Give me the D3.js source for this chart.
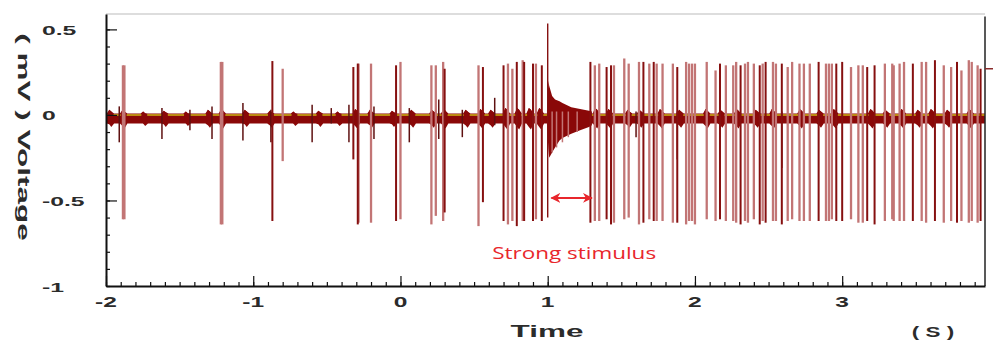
<!DOCTYPE html>
<html>
<head>
<meta charset="utf-8">
<script src="https://cdn.jsdelivr.net/npm/d3@7"></script>
<style>
  html, body { margin: 0; padding: 0; background: #fff; }
  svg { display: block; }
  .lbl { font-family: "Liberation Sans", Arial, sans-serif; font-weight: bold; fill: #2b2b2b; }
</style>
</head>
<body>
<svg id="chart" width="993" height="343"></svg>
<script>
// ---- data ----

// big action potentials: time (s), top (mV), bottom (mV), shade (1 = dark trace, 0 = pale trace)
var spikeTimes = [
  -1.885, -1.875, -1.22, -1.21, -0.87, -0.80, -0.32, -0.29, -0.285, -0.20,
  -0.03, 0.00, 0.21, 0.24, 0.29, 0.30, 0.53, 0.56, 0.70, 0.73,
  0.76, 0.79, 0.83, 0.84, 0.90, 0.92, 0.96, 1.00, 1.29, 1.32,
  1.35, 1.40, 1.43, 1.45, 1.52, 1.55, 1.62, 1.65, 1.69, 1.72,
  1.74, 1.78, 1.85, 1.88, 1.94, 1.96, 1.98, 2.00, 2.08, 2.14,
  2.17, 2.21, 2.26, 2.28, 2.31, 2.34, 2.36, 2.40, 2.44, 2.46,
  2.48, 2.53, 2.55, 2.59, 2.63, 2.66, 2.71, 2.74, 2.78, 2.84,
  2.89, 2.91, 2.93, 2.96, 3.00, 3.06, 3.11, 3.14, 3.17, 3.22,
  3.29, 3.34, 3.35, 3.39, 3.42, 3.48, 3.54, 3.57, 3.63, 3.69,
  3.74, 3.78, 3.81, 3.86, 3.88, 3.92, 3.94
];
var spikeTops = [
  0.29, 0.29, 0.31, 0.31, 0.315, 0.27, 0.28, 0.30, 0.30, 0.30,
  0.29, 0.31, 0.29, 0.29, 0.31, 0.27, 0.29, 0.28, 0.29, 0.30,
  0.27, 0.31, 0.32, 0.31, 0.30, 0.30, 0.29, 0.535, 0.31, 0.29,
  0.30, 0.28, 0.29, 0.29, 0.33, 0.30, 0.31, 0.31, 0.30, 0.31,
  0.30, 0.30, 0.30, 0.28, 0.31, 0.30, 0.30, 0.30, 0.31, 0.26,
  0.30, 0.29, 0.29, 0.31, 0.29, 0.30, 0.31, 0.30, 0.29, 0.30,
  0.31, 0.31, 0.30, 0.30, 0.28, 0.31, 0.30, 0.30, 0.30, 0.31,
  0.30, 0.30, 0.30, 0.30, 0.31, 0.28, 0.29, 0.29, 0.28, 0.29,
  0.30, 0.30, 0.29, 0.30, 0.31, 0.30, 0.31, 0.31, 0.32, 0.29,
  0.28, 0.31, 0.26, 0.32, 0.31, 0.29, 0.27
];
var spikeBottoms = [
  -0.61, -0.61, -0.64, -0.64, -0.62, -0.27, -0.26, -0.64, -0.63, -0.63,
  -0.62, -0.61, -0.64, -0.59, -0.62, -0.57, -0.65, -0.51, -0.62, -0.64,
  -0.62, -0.65, -0.62, -0.62, -0.62, -0.61, -0.62, -0.60, -0.63, -0.62,
  -0.62, -0.61, -0.64, -0.63, -0.61, -0.60, -0.64, -0.63, -0.61, -0.62,
  -0.62, -0.62, -0.63, -0.63, -0.64, -0.62, -0.62, -0.64, -0.61, -0.62,
  -0.61, -0.62, -0.62, -0.63, -0.64, -0.62, -0.63, -0.61, -0.64, -0.62,
  -0.63, -0.62, -0.62, -0.64, -0.62, -0.61, -0.62, -0.62, -0.62, -0.62,
  -0.62, -0.62, -0.61, -0.62, -0.62, -0.61, -0.63, -0.63, -0.62, -0.64,
  -0.62, -0.61, -0.62, -0.62, -0.62, -0.62, -0.62, -0.63, -0.62, -0.63,
  -0.62, -0.63, -0.62, -0.63, -0.62, -0.63, -0.62
];
var spikeShade = [
  0, 0, 0, 0, 1, 0, 1, 1, 0, 0,
  1, 0, 0, 0, 0, 1, 0, 1, 1, 0,
  0, 1, 0, 1, 1, 0, 1, 1, 1, 0,
  0, 1, 1, 0, 0, 0, 0, 1, 0, 1,
  0, 0, 0, 1, 0, 0, 0, 0, 0, 0,
  1, 0, 0, 0, 1, 0, 0, 0, 1, 0,
  1, 0, 0, 1, 0, 0, 0, 0, 0, 1,
  0, 0, 0, 1, 1, 0, 0, 0, 1, 1,
  0, 0, 0, 0, 0, 1, 0, 0, 1, 0,
  0, 1, 0, 0, 0, 0, 1
];

// small excursions off the baseline
var minorTimes   = [-1.91, -1.62, -1.43, -1.28, -1.07, -0.88, -0.60, -0.47, -0.35, -0.18, 0.06, 0.26, 0.42, 0.64, 1.03, 1.06, 1.10, 1.14, 1.20, 1.60, 1.88, 2.53, 2.59];
var minorTops    = [0.05, 0.04, 0.03, 0.05, 0.07, 0.03, 0.06, 0.04, 0.06, 0.05, 0.04, 0.09, 0.03, 0.10, 0.02, 0.02, 0.02, 0.02, 0.02, 0.02, 0.02, 0.02, 0.02];
var minorBottoms = [-0.16, -0.14, -0.09, -0.14, -0.15, -0.16, -0.16, -0.05, -0.16, -0.14, -0.16, -0.14, -0.13, -0.06, -0.22, -0.19, -0.16, -0.13, -0.10, -0.13, -0.26, -0.13, -0.31];
var minorShade   = [1, 1, 1, 1, 1, 1, 1, 1, 1, 1, 1, 1, 1, 1, 0, 0, 0, 0, 0, 1, 1, 1, 1];

// quiet baseline noise band
var calmUpper = 0.008;
var calmLower = -0.05;

// noise bursts on the baseline
var burstTimes = [-1.97, -1.88, -1.74, -1.6, -1.45, -1.3, -1.21, -1.05, -0.88, -0.72, -0.55, -0.42, -0.3, -0.2, -0.05, 0.08, 0.22, 0.3, 0.45, 0.55, 0.62, 0.72, 0.8, 0.88, 0.95, 1.33, 1.42, 1.55, 1.63, 1.77, 1.9, 2.08, 2.18, 2.29, 2.42, 2.53, 2.72, 2.85, 2.95, 3.2, 3.3, 3.41, 3.52, 3.61, 3.72, 3.87];
var burstUpper = [0.03, 0.03, 0.02, 0.025, 0.02, 0.03, 0.035, 0.03, 0.025, 0.02, 0.025, 0.02, 0.035, 0.03, 0.025, 0.03, 0.03, 0.035, 0.03, 0.035, 0.03, 0.04, 0.04, 0.04, 0.04, 0.04, 0.035, 0.03, 0.03, 0.035, 0.03, 0.035, 0.03, 0.035, 0.03, 0.035, 0.035, 0.03, 0.035, 0.035, 0.03, 0.035, 0.03, 0.035, 0.03, 0.035];
var burstLower = [-0.07, -0.08, -0.065, -0.07, -0.065, -0.075, -0.08, -0.07, -0.075, -0.065, -0.07, -0.065, -0.08, -0.075, -0.07, -0.075, -0.075, -0.08, -0.075, -0.08, -0.075, -0.085, -0.085, -0.085, -0.085, -0.08, -0.08, -0.075, -0.075, -0.08, -0.075, -0.08, -0.075, -0.08, -0.075, -0.08, -0.08, -0.075, -0.08, -0.08, -0.075, -0.08, -0.075, -0.08, -0.075, -0.08];

// stimulus artefact right after t = 1 s
var artTimes = [0.995, 1.005, 1.01, 1.03, 1.05, 1.08, 1.10, 1.16, 1.22, 1.28, 1.30];
var artUpper = [0.03, 0.20, 0.17, 0.11, 0.09, 0.08, 0.07, 0.045, 0.035, 0.025, 0.02];
var artLower = [-0.06, -0.20, -0.25, -0.22, -0.19, -0.15, -0.135, -0.11, -0.09, -0.07, -0.06];

// axes
var xTickValues = [-2, -1, 0, 1, 2, 3];
var xTickLabels = ["-2", "-1", "0", "1", "2", "3"];
var yTickValues = [0.5, 0, -0.5, -1];
var yTickLabels = ["0.5", "0", "-0.5", "-1"];

// annotation
var arrowFrom = 1.025, arrowTo = 1.30, arrowLevel = -0.485;
var noteText = "Strong stimulus", noteTime = 1.18, noteLevel = -0.81;

// ---- drawing ----
var DARK = "#861010";
var LIGHT = "#c27575";
var BAND = "#8a0808";
var YELLOW = "#cdb515";

var svg = d3.select("#chart");

var x = d3.scaleLinear().domain([-2, 3.97]).range([106, 985]);
var y = d3.scaleLinear().domain([-1, 0.59]).range([286, 14]);

// clip everything that belongs to the trace to the plot frame
svg.append("defs").append("clipPath").attr("id", "plot-clip")
  .append("rect")
    .attr("x", x(-2)).attr("y", y(0.59))
    .attr("width", x(3.97) - x(-2)).attr("height", y(-1) - y(0.59));

var plot = svg.append("g").attr("clip-path", "url(#plot-clip)");

var envelope = d3.area()
  .x(function(d) { return x(d.t); })
  .y0(function(d) { return y(d.lo); })
  .y1(function(d) { return y(d.hi); });

// baseline band: quiet level with the bursts pushed out of it as ragged peaks
var band = [{ t: -2, hi: calmUpper, lo: calmLower }];
burstTimes.forEach(function(t, i) {
  band.push({ t: t - 0.025, hi: calmUpper, lo: calmLower });
  band.push({ t: t - 0.008, hi: burstUpper[i], lo: burstLower[i] + 0.015 });
  band.push({ t: t + 0.006, hi: burstUpper[i] - 0.01, lo: burstLower[i] });
  band.push({ t: t + 0.025, hi: calmUpper, lo: calmLower });
});
band.push({ t: 3.97, hi: calmUpper, lo: calmLower });

plot.append("path")
  .datum(band)
  .attr("d", envelope)
  .attr("fill", BAND);

// yellow zero line (sits along the top of the band)
plot.append("line")
  .attr("x1", x(-2)).attr("x2", x(3.97))
  .attr("y1", y(0.0)).attr("y2", y(0.0))
  .attr("stroke", YELLOW).attr("stroke-width", 1.6);

// bursts drawn again over the yellow line so it breaks there
plot.selectAll("path.burst")
  .data(burstTimes)
  .enter().append("path")
    .attr("class", "burst")
    .attr("d", function(t, i) {
      return envelope([
        { t: t - 0.02, hi: calmUpper - 0.004, lo: calmUpper - 0.02 },
        { t: t - 0.008, hi: burstUpper[i], lo: calmLower },
        { t: t + 0.006, hi: burstUpper[i] - 0.01, lo: calmLower },
        { t: t + 0.02, hi: calmUpper - 0.004, lo: calmUpper - 0.02 }
      ]);
    })
    .attr("fill", BAND);

// artefact after the stimulus
var art = artTimes.map(function(t, i) { return { t: t, hi: artUpper[i], lo: artLower[i] }; });
plot.append("path")
  .datum(art)
  .attr("d", envelope)
  .attr("fill", BAND);

// small excursions
plot.selectAll("line.minor")
  .data(minorTimes)
  .enter().append("line")
    .attr("class", "minor")
    .attr("x1", function(d) { return x(d); }).attr("x2", function(d) { return x(d); })
    .attr("y1", function(d, i) { return y(minorTops[i]); })
    .attr("y2", function(d, i) { return y(minorBottoms[i]); })
    .attr("stroke", function(d, i) { return minorShade[i] ? "#5e1010" : LIGHT; })
    .attr("stroke-width", 1.5);

// spikes: pale ones first, dark ones over them
var spikes = spikeTimes.map(function(t, i) {
  return { t: t, top: spikeTops[i], bottom: spikeBottoms[i], dark: spikeShade[i] };
}).sort(function(a, b) { return a.dark - b.dark; });

plot.selectAll("line.spike")
  .data(spikes)
  .enter().append("line")
    .attr("class", "spike")
    .attr("x1", function(d) { return x(d.t); }).attr("x2", function(d) { return x(d.t); })
    .attr("y1", function(d) { return y(d.top); })
    .attr("y2", function(d) { return y(d.bottom); })
    .attr("stroke", function(d) { return d.dark ? DARK : LIGHT; })
    .attr("stroke-width", function(d) { return d.t === 1.00 ? 1.4 : (d.dark ? 2 : 2.3); });

// ---- frame and axes ----
svg.append("line")   // light top border
  .attr("x1", x(-2)).attr("x2", x(3.97)).attr("y1", y(0.59)).attr("y2", y(0.59))
  .attr("stroke", "#d2d2d2").attr("stroke-width", 1.5);

svg.append("line")   // right border
  .attr("x1", x(3.97)).attr("x2", x(3.97)).attr("y1", y(0.575)).attr("y2", y(-1))
  .attr("stroke", "#222").attr("stroke-width", 1.5);

svg.append("line")   // small mark outside the right border
  .attr("x1", x(3.97)).attr("x2", x(3.97) + 8).attr("y1", y(0.27)).attr("y2", y(0.27))
  .attr("stroke", "#8a2a2a").attr("stroke-width", 1.5);

function styleAxis(g, w) {
  g.select(".domain").attr("stroke", "#111").attr("stroke-width", w);
  g.selectAll(".tick line").attr("stroke", "#111").attr("stroke-width", 1.2);
}

var xMinor = d3.range(-2, 3.95, 0.1);
var yMinor = d3.range(-1, 0.55, 0.1);

svg.append("g")
  .attr("transform", "translate(0," + y(-1) + ")")
  .call(d3.axisBottom(x).tickValues(xMinor).tickSizeInner(-4).tickSizeOuter(0).tickFormat(""))
  .call(styleAxis, 2);

svg.append("g")
  .attr("transform", "translate(0," + y(-1) + ")")
  .call(d3.axisBottom(x).tickValues(xTickValues).tickSizeInner(-10).tickSizeOuter(0).tickFormat(""))
  .call(function(g) { g.select(".domain").remove(); })
  .call(styleAxis, 2);

svg.append("g")
  .attr("transform", "translate(" + x(-2) + ",0)")
  .call(d3.axisLeft(y).tickValues(yMinor).tickSizeInner(-4).tickSizeOuter(0).tickFormat(""))
  .call(styleAxis, 2);

svg.append("g")
  .attr("transform", "translate(" + x(-2) + ",0)")
  .call(d3.axisLeft(y).tickValues([0.5, 0, -0.5]).tickSizeInner(-11).tickSizeOuter(0).tickFormat(""))
  .call(function(g) { g.select(".domain").remove(); })
  .call(styleAxis, 2);

// the lettering in the picture is wide, so stretch each label along its run
function stretch(sel, k) {
  sel.each(function() {
    var w = this.getComputedTextLength();
    d3.select(this).attr("textLength", w * k).attr("lengthAdjust", "spacingAndGlyphs");
  });
}

svg.selectAll("text.xlab")
  .data(xTickValues)
  .enter().append("text")
    .attr("class", "lbl xlab")
    .attr("x", function(d) { return x(d); })
    .attr("y", 307)
    .attr("text-anchor", "middle")
    .style("font-size", "14px")
    .text(function(d, i) { return xTickLabels[i]; })
    .call(stretch, 1.75);

svg.selectAll("text.ylab")
  .data(yTickValues)
  .enter().append("text")
    .attr("class", "lbl ylab")
    .attr("x", 42)
    .attr("y", function(d) { return y(d) + 1; })
    .attr("dy", "0.35em")
    .style("font-size", "13px")
    .text(function(d, i) { return yTickLabels[i]; })
    .call(stretch, 1.9);

svg.append("text")
  .attr("class", "lbl")
  .attr("x", 547).attr("y", 337)
  .attr("text-anchor", "middle")
  .style("font-size", "17px")
  .text("Time")
  .call(stretch, 1.85);

svg.append("text")
  .attr("class", "lbl")
  .attr("x", 933).attr("y", 337)
  .attr("text-anchor", "middle")
  .style("font-size", "14px")
  .text("( S )")
  .call(stretch, 1.6);

svg.append("text")
  .attr("class", "lbl")
  .attr("transform", "translate(18,137) rotate(90)")
  .attr("text-anchor", "middle")
  .style("font-size", "17px")
  .text("( mV ) Voltage")
  .call(stretch, 1.85);

// ---- annotation ----
var RED = "#e8262c";
var defs = svg.select("defs");
defs.append("marker")
    .attr("id", "arrow-head")
    .attr("viewBox", "0 0 10 10")
    .attr("refX", 9).attr("refY", 5)
    .attr("markerWidth", 5).attr("markerHeight", 5)
    .attr("orient", "auto-start-reverse")
  .append("path")
    .attr("d", "M0,0 L10,5 L0,10 L3,5 z")
    .attr("fill", RED);

svg.append("line")
  .attr("x1", x(arrowFrom)).attr("x2", x(arrowTo))
  .attr("y1", y(arrowLevel)).attr("y2", y(arrowLevel))
  .attr("stroke", RED).attr("stroke-width", 2)
  .attr("marker-start", "url(#arrow-head)")
  .attr("marker-end", "url(#arrow-head)");

svg.append("text")
  .attr("x", x(noteTime)).attr("y", y(noteLevel))
  .attr("dy", "0.35em")
  .attr("text-anchor", "middle")
  .style("font-family", "'Open Sans', 'Liberation Sans', sans-serif")
  .style("font-size", "17px")
  .style("fill", RED)
  .text(noteText)
  .call(stretch, 1.32);
</script>
</body>
</html>
